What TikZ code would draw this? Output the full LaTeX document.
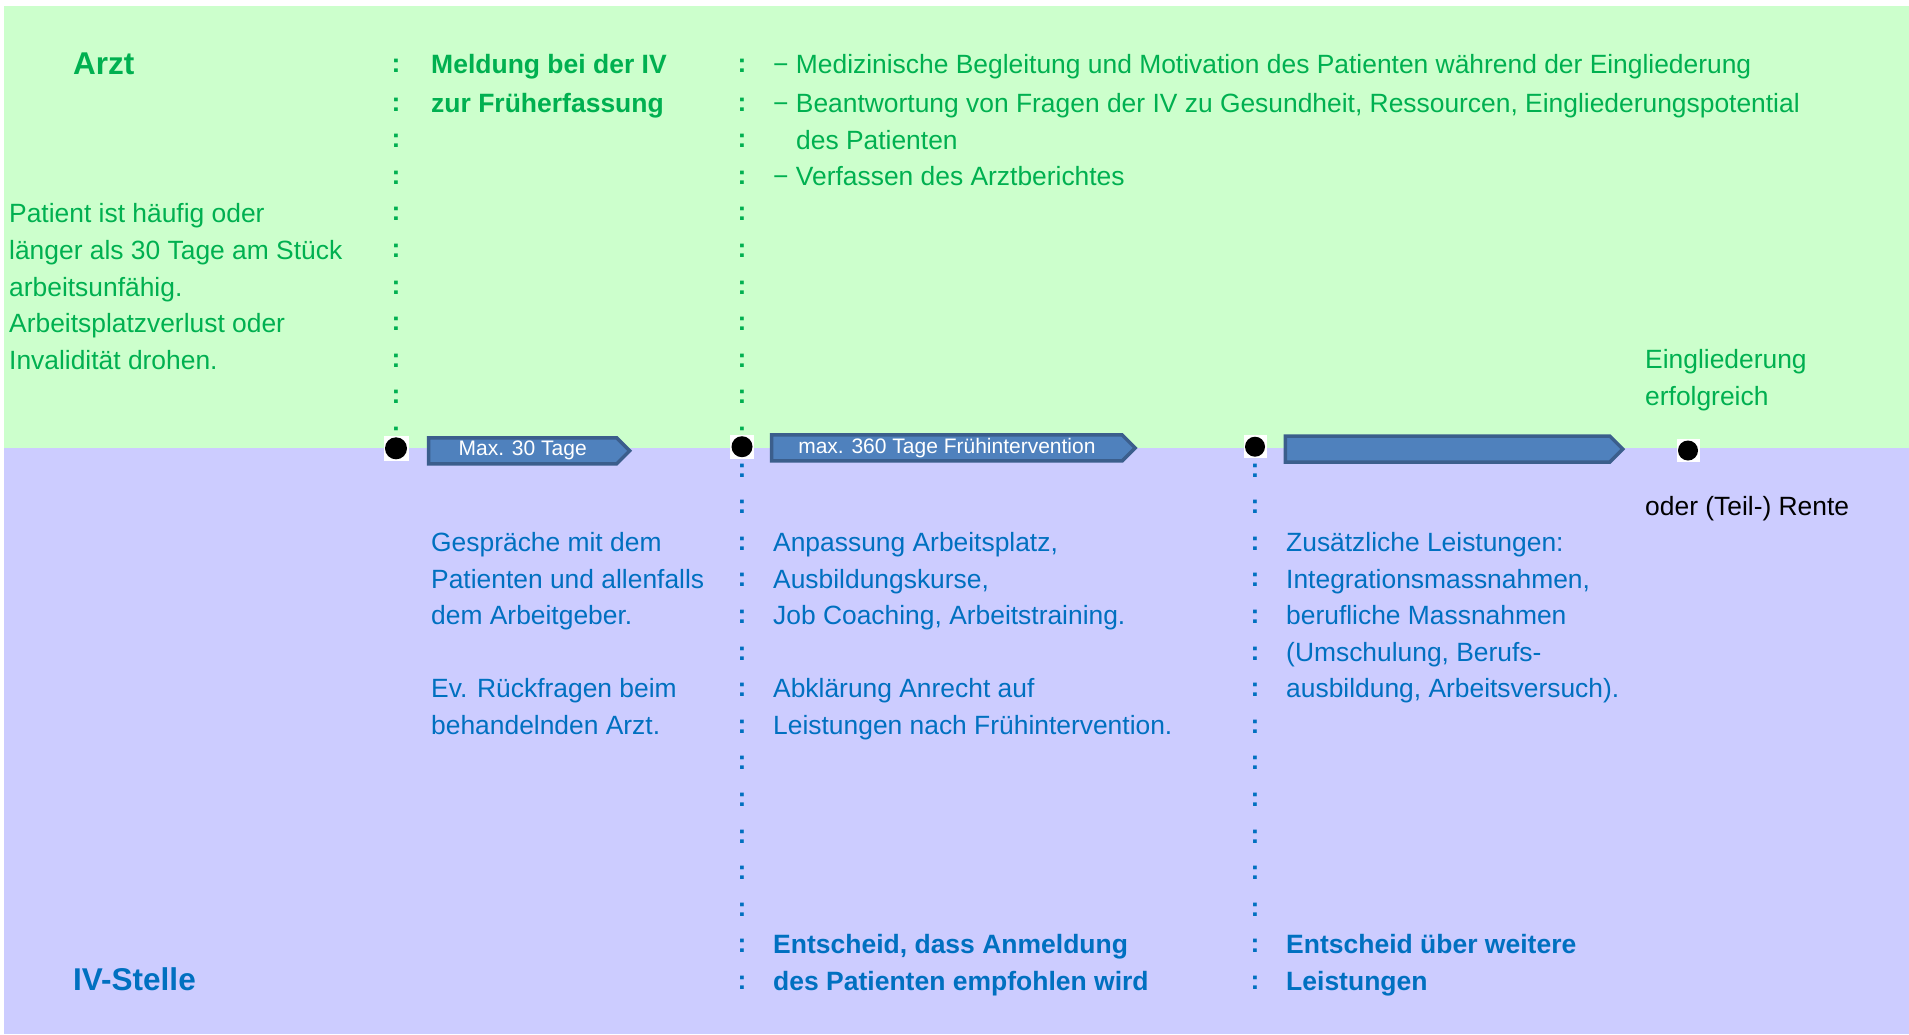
\documentclass[tikz,border=0pt]{standalone}
\usepackage{fontspec}
\setmainfont{Liberation Sans}
\usepackage{tikz}
\usetikzlibrary{shapes.symbols}
\definecolor{arztgreen}{HTML}{00B050}
\definecolor{ivblue}{HTML}{0070C0}
\definecolor{greenbg}{HTML}{CCFFCC}
\definecolor{bluebg}{HTML}{CCCCFF}
\definecolor{barfill}{HTML}{4F81BD}
\definecolor{barline}{HTML}{3B5E8C}
\tikzset{txt/.style = {anchor=base west, inner sep=0pt, font=\fontsize{26.4}{30}\selectfont}}
\tikzset{boldtxt/.style = {txt, font=\fontsize{26.5}{30}\selectfont\bfseries}}
\tikzset{head/.style = {txt, font=\fontsize{31.5}{36}\selectfont\bfseries}}
\tikzset{colon/.style = {anchor=base, inner sep=0pt, font=\fontsize{26.5}{30}\selectfont\bfseries}}
\tikzset{timebar/.style = {shape=signal, signal to=east, signal pointer angle=90, fill=barfill, draw=barline, line width=3.5pt, text=white, font=\fontsize{21}{24}\selectfont, inner sep=0pt, minimum height=26pt}}
\tikzset{milestone/.style = {shape=circle, fill=black, inner sep=0pt, minimum size=22pt}}
\tikzset{milebox/.style = {shape=rectangle, fill=white, inner sep=0pt, minimum size=25pt}}

\begin{document}
\begin{tikzpicture}[x=1pt,y=-1pt]
            % Background
            \useasboundingbox (0,0) rectangle (1909,1034);
            \fill[greenbg] (4,6) rectangle (1909,448);
            \fill[bluebg] (4,448) rectangle (1909,1034);

            % Colons
            \foreach \col in {396,742} {
                \node[colon, arztgreen] (g\col-0) at (\col,72) {:};
                \foreach \i in {1,...,10}
                    \node[colon, arztgreen] (g\col-\i) at (\col,{74.4+36.6*\i}) {:};
            }
            \foreach \col in {742,1255}
                \foreach \i in {0,...,14}
                    \node[colon, ivblue] (b\col-\i) at (\col,{477+36.6*\i}) {:};

            % Milestones
            \node[milebox] (box1) at (396,448.3) {};
            \node[milestone] (dot1) at (box1) {};
            \node[milebox, minimum size=24pt] (box2) at (742,446.7) {};
            \node[milestone, minimum size=21pt] (dot2) at (box2) {};
            \node[milebox, minimum size=23pt] (box3) at (1255,446.7) {};
            \node[milestone, minimum size=20pt] (dot3) at (box3) {};
            \node[milebox, minimum size=23pt] (box4) at (1688,450.5) {};
            \node[milestone, minimum size=20pt] (dot4) at (box4) {};

            % Bars
            \node[timebar, minimum width=201pt] (bar1) at (522.7,450.8) {Max. 30 Tage};
            \node[timebar, minimum width=363.5pt] (bar2) at (946.9,447.9) {max. 360 Tage Frühintervention};
            \node[timebar, minimum width=337.5pt] (bar3) at (1447.5,449) {};

            % Arzt
            \node[head, arztgreen] (arzt) at (73,74) {Arzt};
            \node[txt, arztgreen] (pat1) at (9,222.8) {Patient ist häufig oder};
            \node[txt, arztgreen] (pat2) at (9,259.4) {länger als 30 Tage am Stück};
            \node[txt, arztgreen] (pat3) at (9,296) {arbeitsunfähig.};
            \node[txt, arztgreen] (pat4) at (9,332.6) {Arbeitsplatzverlust oder};
            \node[txt, arztgreen] (pat5) at (9,369.2) {Invalidität drohen.};
            \node[boldtxt, arztgreen] (meld1) at (431,73) {Meldung bei der IV};
            \node[boldtxt, arztgreen] (meld2) at (431,112) {zur Früherfassung};
            \node[txt, arztgreen] (task1) at (773,73) {− Medizinische Begleitung und Motivation des Patienten während der Eingliederung};
            \node[txt, arztgreen] (task2) at (773,112) {− Beantwortung von Fragen der IV zu Gesundheit, Ressourcen, Eingliederungspotential};
            \node[txt, arztgreen] (task3) at (796,149) {des Patienten};
            \node[txt, arztgreen] (task4) at (773,185.6) {− Verfassen des Arztberichtes};
            \node[txt, arztgreen] (ok1) at (1645,368.6) {Eingliederung};
            \node[txt, arztgreen] (ok2) at (1645,405.2) {erfolgreich};
            \node[txt] (rente) at (1645,515) {oder (Teil-) Rente};

            % IV-Stelle
            \node[head, ivblue] (ivstelle) at (73,990) {IV-Stelle};
            \node[txt, ivblue] (ga1) at (431,551.4) {Gespräche mit dem};
            \node[txt, ivblue] (ga2) at (431,588) {Patienten und allenfalls};
            \node[txt, ivblue] (ga3) at (431,624.6) {dem Arbeitgeber.};
            \node[txt, ivblue] (ga4) at (431,697.8) {Ev. Rückfragen beim};
            \node[txt, ivblue] (ga5) at (431,734.4) {behandelnden Arzt.};
            \node[txt, ivblue] (fi1) at (773,551.4) {Anpassung Arbeitsplatz,};
            \node[txt, ivblue] (fi2) at (773,588) {Ausbildungskurse,};
            \node[txt, ivblue] (fi3) at (773,624.6) {Job Coaching, Arbeitstraining.};
            \node[txt, ivblue] (fi4) at (773,697.8) {Abklärung Anrecht auf};
            \node[txt, ivblue] (fi5) at (773,734.4) {Leistungen nach Frühintervention.};
            \node[boldtxt, ivblue] (ent1) at (773,953.8) {Entscheid, dass Anmeldung};
            \node[boldtxt, ivblue] (ent2) at (773,990.4) {des Patienten empfohlen wird};
            \node[txt, ivblue] (zl1) at (1286,551.4) {Zusätzliche Leistungen:};
            \node[txt, ivblue] (zl2) at (1286,588) {Integrationsmassnahmen,};
            \node[txt, ivblue] (zl3) at (1286,624.6) {berufliche Massnahmen};
            \node[txt, ivblue] (zl4) at (1286,661.2) {(Umschulung, Berufs-};
            \node[txt, ivblue] (zl5) at (1286,697.8) {ausbildung, Arbeitsversuch).};
            \node[boldtxt, ivblue] (ent3) at (1286,953.8) {Entscheid über weitere};
            \node[boldtxt, ivblue] (ent4) at (1286,990.4) {Leistungen};

        \end{tikzpicture}
\end{document}
